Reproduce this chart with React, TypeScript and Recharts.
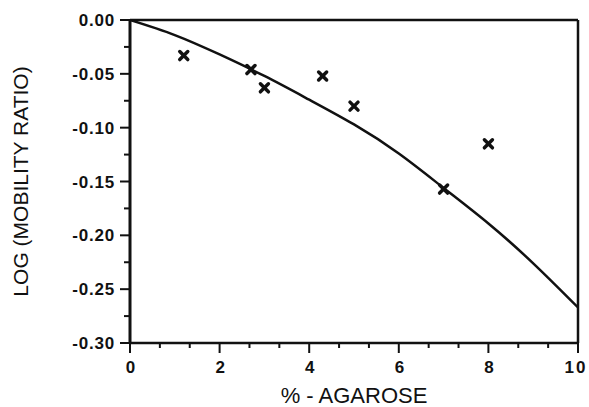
import {
  ComposedChart,
  Line,
  Scatter,
  XAxis,
  YAxis,
  ReferenceLine,
} from "recharts";

// fitted curve, sampled at each percent
const CURVE_X = [0, 1, 2, 3, 4, 5, 6, 7, 8, 9, 10];
const CURVE_Y = [0, -0.014, -0.032, -0.052, -0.074, -0.097, -0.124, -0.156, -0.189, -0.226, -0.267];

// measured points
const POINT_X = [1.2, 2.7, 3.0, 4.3, 5.0, 7.0, 8.0];
const POINT_Y = [-0.033, -0.046, -0.063, -0.052, -0.08, -0.157, -0.115];

const X_MAJOR = [0, 2, 4, 6, 8, 10];
const X_MINOR = [2 / 3, 4 / 3, 8 / 3, 10 / 3, 14 / 3, 16 / 3, 20 / 3, 22 / 3, 26 / 3, 28 / 3];
const Y_MAJOR = [0, -0.05, -0.1, -0.15, -0.2, -0.25, -0.3];
const Y_MINOR = [-0.025, -0.075, -0.125, -0.175, -0.225, -0.275];

const curve = CURVE_X.map((x, i) => ({ x, y: CURVE_Y[i] }));
const points = POINT_X.map((x, i) => ({ x, y: POINT_Y[i] }));

const FONT = '"Liberation Sans", Arial, Helvetica, sans-serif';
const INK = "#111";

const tickText = {
  fontFamily: FONT,
  fontSize: 17,
  fontWeight: 700,
  letterSpacing: 0.8,
  fill: INK,
};

function YTick({ x, y, payload }: any) {
  const major = Y_MAJOR.includes(payload.value);
  return (
    <g>
      <line x1={x - (major ? 10 : 6)} x2={x} y1={y} y2={y} stroke={INK} strokeWidth={2} />
      {major && (
        <text x={x - 15} y={y} dy={6} textAnchor="end" style={tickText}>
          {payload.value.toFixed(2)}
        </text>
      )}
    </g>
  );
}

function XTick({ x, y, payload }: any) {
  const major = X_MAJOR.includes(payload.value);
  const wide = payload.value >= 10;
  return (
    <g>
      <line x1={x} x2={x} y1={y} y2={y + (major ? 10 : 5)} stroke={INK} strokeWidth={2} />
      {major && (
        <text
          x={wide ? x - 2 : x + 1}
          y={y}
          dy={30}
          textAnchor="middle"
          style={{ ...tickText, letterSpacing: wide ? 2 : 0.8 }}
        >
          {payload.value}
        </text>
      )}
    </g>
  );
}

function Cross({ cx, cy }: any) {
  const r = 4;
  return (
    <g stroke={INK} strokeWidth={3.5} strokeLinecap="round">
      <line x1={cx - r} y1={cy - r} x2={cx + r} y2={cy + r} />
      <line x1={cx - r} y1={cy + r} x2={cx + r} y2={cy - r} />
    </g>
  );
}

export default function App() {
  return (
    <div style={{ position: "absolute", left: 0, top: 0, width: 589, height: 407, background: "#fff" }}>
      <ComposedChart width={589} height={407} margin={{ top: 20, right: 11, bottom: 0, left: 0 }}>
        <XAxis
          type="number"
          dataKey="x"
          domain={[0, 10]}
          ticks={[...X_MAJOR, ...X_MINOR].sort((a, b) => a - b)}
          interval={0}
          tick={<XTick />}
          tickLine={false}
          tickSize={0}
          tickMargin={0}
          height={64}
          axisLine={{ stroke: INK, strokeWidth: 2.5 }}
          allowDataOverflow
          label={{
            value: "% - AGAROSE",
            position: "insideBottom",
            offset: 4,
            style: { fontFamily: FONT, fontSize: 22, fill: INK },
          }}
        />
        <YAxis
          type="number"
          dataKey="y"
          domain={[-0.3, 0]}
          ticks={[...Y_MAJOR, ...Y_MINOR]}
          interval={0}
          tick={<YTick />}
          tickLine={false}
          tickSize={0}
          tickMargin={0}
          width={130}
          axisLine={{ stroke: INK, strokeWidth: 3 }}
          allowDataOverflow
          label={{
            value: "LOG (MOBILITY RATIO)",
            angle: -90,
            position: "insideLeft",
            offset: 21,
            style: { fontFamily: FONT, fontSize: 21, fill: INK, textAnchor: "middle" },
          }}
        />
        <ReferenceLine y={0} stroke={INK} strokeWidth={2.5} />
        <ReferenceLine x={10} stroke={INK} strokeWidth={2.5} />
        <Line
          data={curve}
          dataKey="y"
          type="natural"
          stroke={INK}
          strokeWidth={2.5}
          dot={false}
          activeDot={false}
          isAnimationActive={false}
        />
        <Scatter data={points} dataKey="y" shape={<Cross />} isAnimationActive={false} />
      </ComposedChart>
    </div>
  );
}
